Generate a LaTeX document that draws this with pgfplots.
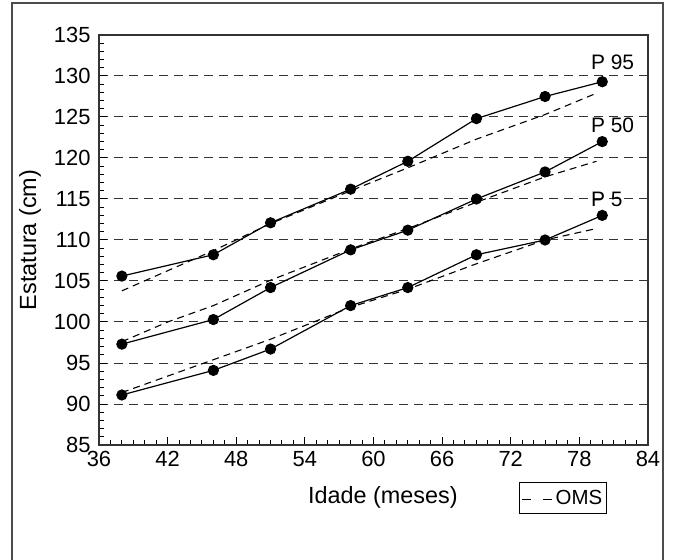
\documentclass[border=0pt]{standalone}
\usepackage{fontspec}
\setmainfont{Liberation Sans}
\usepackage{pgfplots}
\pgfplotsset{compat=1.18}
\begin{document}
\begin{tikzpicture}
\useasboundingbox (-99bp,-115bp) rectangle (576bp,445bp);
\draw[line width=1.5bp, black!70] (-87bp,-130bp) -- (-87bp,442bp) -- (564bp,442bp) -- (564bp,-130bp);
\begin{axis}[at={(0bp,0bp)}, anchor=south west, scale only axis,
  width=549bp, height=410bp,
  xmin=36, xmax=84, ymin=85, ymax=135,
  xtick={36,42,...,84}, ytick={85,90,...,135},
  minor x tick num=5, minor y tick num=4,
  tick align=inside, tick pos=left,
  major tick length=8bp, minor tick length=5bp,
  every tick/.style={black, line width=1bp},
  axis line style={line width=1.5bp, black!80},
  ymajorgrids, grid style={dash pattern=on 9bp off 6bp, black!80, line width=1bp},
  font=\fontsize{21}{25}\selectfont,
  ticklabel style={font=\fontsize{22}{26}\selectfont},
  yticklabel style={xshift=-5bp},
  xticklabel style={yshift=-3bp},
  /pgf/number format/assume math mode=true,
  xlabel={Idade (meses)}, ylabel={Estatura (cm)},
  label style={font=\fontsize{23.5}{28}\selectfont},
  xlabel style={at={(axis description cs:0.517,-0.127)}, anchor=center},
  ylabel style={at={(axis description cs:-0.1257,0.5)}, anchor=center},
  legend style={at={(axis description cs:0.845,-0.129)}, anchor=center, draw=black, line width=1bp,
    font=\fontsize{20.5}{24}\selectfont, inner xsep=2bp, inner ysep=4bp,
    nodes={inner xsep=2bp, inner ysep=4bp}},
  legend image code/.code={\draw[dash pattern=on 9bp off 12bp, line width=1bp] (0bp,-2bp) -- (31bp,-2bp);},
]
% observed
\addplot[black, line width=1.2bp, mark=*, mark size=5bp, forget plot] coordinates {
 (38,105.6) (46,108.2) (51,112.1) (58,116.2) (63,119.6) (69,124.8) (75,127.5) (80,129.3)};
\addplot[black, line width=1.2bp, mark=*, mark size=5bp, forget plot] coordinates {
 (38,97.3) (46,100.3) (51,104.2) (58,108.8) (63,111.2) (69,115.0) (75,118.3) (80,122.0)};
\addplot[black, line width=1.2bp, mark=*, mark size=5bp, forget plot] coordinates {
 (38,91.1) (46,94.1) (51,96.7) (58,102.0) (63,104.2) (69,108.2) (75,110.0) (80,113.0)};
% OMS
\addplot[black, line width=1.1bp, dash pattern=on 7bp off 5bp, forget plot] coordinates {
 (38,103.8) (46,108.7) (51,112.0) (58,116.0) (63,118.8) (69,122.3) (75,125.3) (79.5,127.9)};
\addplot[black, line width=1.1bp, dash pattern=on 7bp off 5bp, forget plot] coordinates {
 (38,97.6) (42,100.0) (46,102.0) (51,105.1) (58,108.9) (63,111.4) (69,114.6) (75,117.7) (79.5,119.6)};
\addplot[black, line width=1.1bp, dash pattern=on 7bp off 5bp] coordinates {
 (38,91.4) (46,95.4) (51,97.9) (58,101.8) (63,104.0) (69,107.1) (75,110.0) (79.5,111.4)};
\addlegendentry{OMS}
\node at (axis cs:80.9,131.7) {P 95};
\node at (axis cs:80.9,124.0) {P 50};
\node at (axis cs:80.4,115.0) {P 5};
\end{axis}
\end{tikzpicture}
\end{document}
